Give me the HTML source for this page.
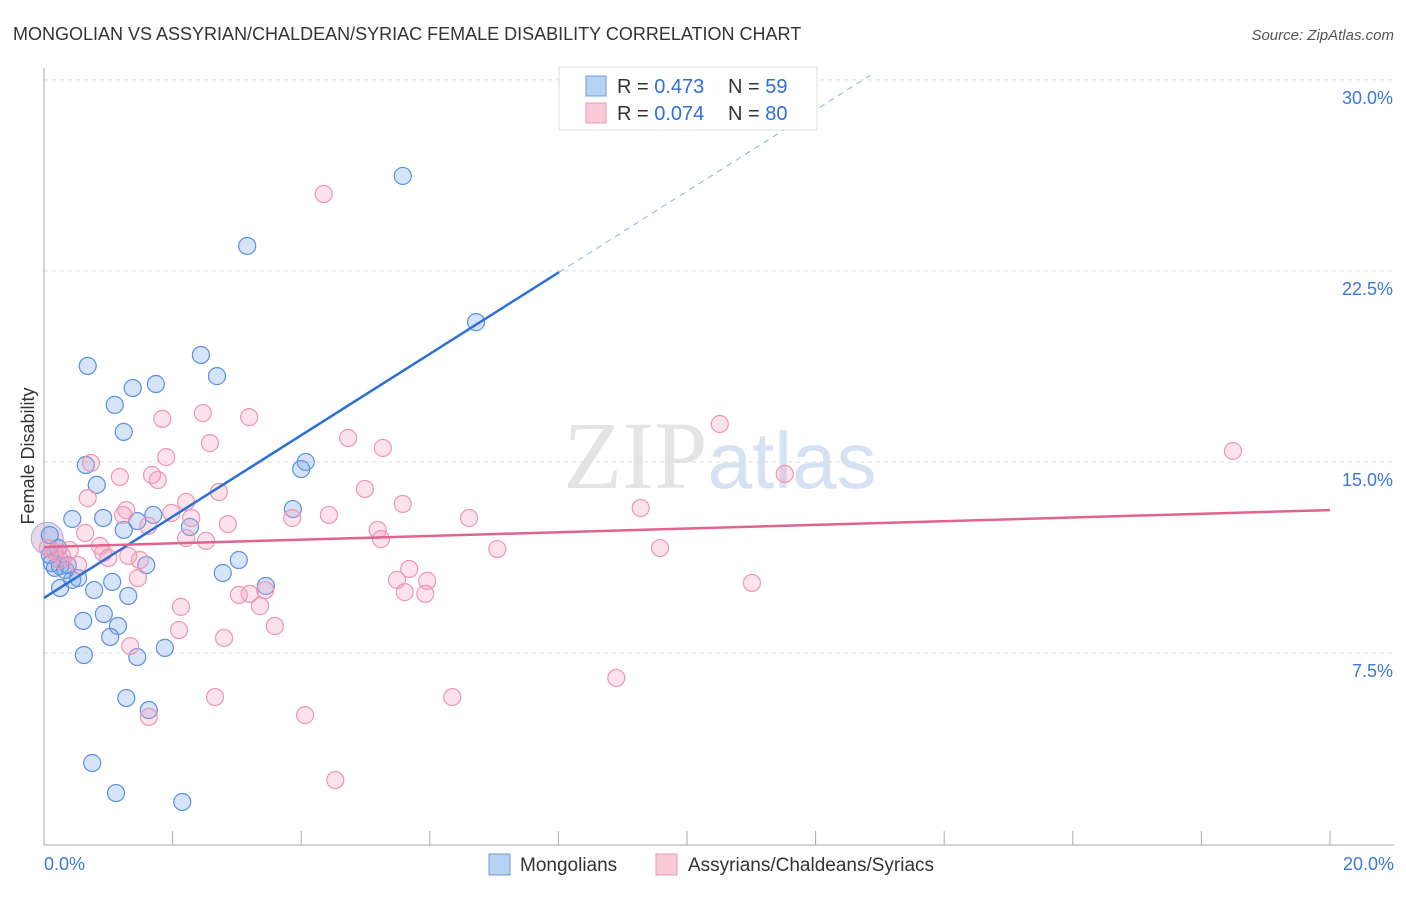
<!DOCTYPE html>
<html><head><meta charset="utf-8"><style>
body{margin:0;background:#fff;font-family:"Liberation Sans",sans-serif}
</style></head><body>
<svg width="1406" height="892" viewBox="0 0 1406 892" xmlns="http://www.w3.org/2000/svg">
<text x="13" y="40" font-size="18" fill="#333">MONGOLIAN VS ASSYRIAN/CHALDEAN/SYRIAC FEMALE DISABILITY CORRELATION CHART</text>
<text x="1394" y="40" font-size="15" fill="#555" font-style="italic" text-anchor="end">Source: ZipAtlas.com</text>
<text x="720" y="488" font-size="96" fill="#e4e4e4" text-anchor="middle" font-family="Liberation Serif,serif">ZIP<tspan fill="#d6e2f4" font-family="Liberation Sans,sans-serif" font-size="80">atlas</tspan></text>
<g id="grid"></g>
<g id="axes"></g>
<text transform="translate(34,456) rotate(-90)" font-size="18" fill="#333" text-anchor="middle">Female Disability</text>
<g id="pts"></g>
<g id="lines"></g>
<g>
<rect x="559" y="67" width="258" height="63" fill="#fff" stroke="#ddd"/>
<rect x="586" y="76" width="20" height="20" fill="#b8d2f4" stroke="#6c9be0"/>
<rect x="586" y="103" width="20" height="20" fill="#f9c9d8" stroke="#ea9ab5"/>
<text x="617" y="93" font-size="20" fill="#333">R = <tspan fill="#2f6fd6">0.473</tspan><tspan x="728">N = </tspan><tspan fill="#2f6fd6">59</tspan></text>
<text x="617" y="120" font-size="20" fill="#333">R = <tspan fill="#2f6fd6">0.074</tspan><tspan x="728">N = </tspan><tspan fill="#2f6fd6">80</tspan></text>
</g>
<g>
<rect x="489" y="854" width="21" height="21" fill="#b8d2f4" stroke="#6c9be0"/>
<text x="520" y="871" font-size="19" fill="#333">Mongolians</text>
<rect x="656" y="854" width="21" height="21" fill="#f9c9d8" stroke="#ea9ab5"/>
<text x="688" y="871" font-size="19" fill="#333">Assyrians/Chaldeans/Syriacs</text>
</g>
</svg>
<script>
const blueX=[5.58,3.16,6.72,0.68,2.44,1.74,1.38,2.69,1.10,1.24,0.65,4.07,4.00,0.82,3.87,0.44,1.70,0.92,1.45,2.27,1.24,3.03,1.59,2.78,3.45,1.06,0.78,1.31,0.25,0.44,0.53,0.61,0.93,1.15,1.03,1.88,1.45,0.62,1.28,1.63,0.75,1.12,2.15,0.09,0.12,0.17,0.25,0.33,0.37,0.09,0.22];
const blueY=[26.23,23.48,20.49,18.77,19.20,18.06,17.90,18.37,17.24,16.18,14.88,15.00,14.72,14.10,13.15,12.76,12.92,12.80,12.68,12.45,12.33,11.15,10.95,10.64,10.13,10.29,9.97,9.74,10.05,10.37,10.44,8.76,9.03,8.56,8.13,7.70,7.34,7.42,5.73,5.26,3.18,2.00,1.65,12.13,11.03,10.84,10.91,10.76,10.95,11.35,11.62];
const pinkX=[4.35,10.51,18.49,11.52,1.84,2.47,3.19,4.73,5.27,2.58,1.90,0.73,1.18,1.68,1.77,0.68,2.21,1.28,2.72,4.43,3.86,1.23,2.29,1.98,4.99,5.58,6.61,9.28,2.86,1.62,2.21,2.52,0.64,5.19,5.24,7.05,9.58,0.87,0.92,1.00,1.31,1.49,1.46,5.68,5.49,5.96,5.61,5.93,11.01,3.03,3.20,3.44,3.36,2.13,3.59,2.10,2.80,1.34,8.90,6.35,2.66,1.63,4.06,4.53,0.06,0.17,0.28,0.40,0.53,0.25];
const pinkY=[25.52,16.49,15.43,14.53,16.69,16.92,16.76,15.94,15.55,15.74,15.19,14.96,14.41,14.49,14.29,13.58,13.43,13.11,13.82,12.92,12.80,12.92,12.80,13.00,13.94,13.35,12.80,13.19,12.56,12.49,12.01,11.90,12.21,12.33,11.97,11.58,11.62,11.70,11.43,11.23,11.31,11.15,10.44,10.80,10.37,10.33,9.89,9.82,10.25,9.78,9.82,9.97,9.34,9.31,8.56,8.40,8.09,7.77,6.52,5.77,5.77,4.99,5.06,2.51,11.62,11.46,11.31,11.54,10.95,11.15];
const yTicks=[7.5,15.0,22.5,30.0];
const yTickLabels=["7.5%","15.0%","22.5%","30.0%"];
const xTicks=[0,2,4,6,8,10,12,14,16,18,20];
const blueTrend=[9.66,1.597]; // intercept, slope
const pinkTrend=[11.66,0.0725];
const X=v=>44+v*64.3, Y=v=>844-v*25.47;
const NS="http://www.w3.org/2000/svg";
function mk(tag,attrs,parent){const e=document.createElementNS(NS,tag);for(const k in attrs)e.setAttribute(k,attrs[k]);document.getElementById(parent).appendChild(e);return e;}
yTicks.forEach((t,i)=>{
 const g=mk('line',{x1:44,x2:1394,y1:Y(t),y2:Y(t),stroke:'#ddd','stroke-dasharray':'4,4'},'grid');
 
 
 const l=mk('text',{x:1393,y:Y(t)+24,'font-size':18,fill:'#3b78d8','text-anchor':'end'},'grid');
 l.textContent=yTickLabels[i];
 
 
});
const ya=mk('line',{x1:44,x2:44,y1:68,y2:845,stroke:'#aaa'},'axes');


const xa=mk('line',{x1:44,x2:1394,y1:845,y2:845,stroke:'#aaa'},'axes');


xTicks.forEach(t=>{const k=mk('line',{x1:X(t),x2:X(t),y1:831,y2:845,stroke:'#aaa'},'axes');
 
 });
const x0=mk('text',{x:44,y:870,'font-size':18,fill:'#3b78d8'},'axes');x0.textContent='0.0%';


const x1=mk('text',{x:1394,y:870,'font-size':18,fill:'#3b78d8','text-anchor':'end'},'axes');x1.textContent='20.0%';


mk('circle',{cx:X(0.05),cy:Y(12.0),r:16,fill:'rgba(190,170,210,0.45)',stroke:'#b9a3cf'},'pts');
blueX.forEach((x,i)=>{const c=mk('circle',{cx:X(x),cy:Y(blueY[i]),r:8.5,fill:'rgba(120,165,235,0.3)',stroke:'#5b8fe0','stroke-width':1.2},'pts');
 
 });
pinkX.forEach((x,i)=>{const c=mk('circle',{cx:X(x),cy:Y(pinkY[i]),r:8.5,fill:'rgba(245,160,190,0.3)',stroke:'#ec96b3','stroke-width':1.2},'pts');
 
 });
const bEnd=8.01, bDash=12.85;
const bl=mk('line',{x1:X(0),y1:Y(blueTrend[0]),x2:X(bEnd),y2:Y(blueTrend[0]+blueTrend[1]*bEnd),stroke:'#2c6fd6','stroke-width':2.5},'lines');


const bd=mk('line',{x1:X(bEnd),y1:Y(blueTrend[0]+blueTrend[1]*bEnd),x2:X(bDash),y2:Y(blueTrend[0]+blueTrend[1]*bDash),stroke:'#8db0e4','stroke-width':1,'stroke-dasharray':'6,5'},'lines');


const pl=mk('line',{x1:X(0),y1:Y(pinkTrend[0]),x2:X(20),y2:Y(pinkTrend[0]+pinkTrend[1]*20),stroke:'#e0648f','stroke-width':2.5},'lines');


</script>
</body></html>
